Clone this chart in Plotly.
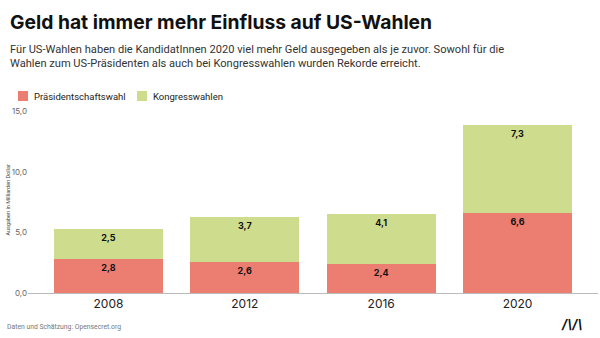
import plotly.graph_objects as go

years = ["2008", "2012", "2016", "2020"]
praesident = [2.8, 2.6, 2.4, 6.6]
kongress = [2.5, 3.7, 4.1, 7.3]
y_ticks = [0, 5, 10, 15]
y_tick_labels = ["0,0", "5,0", "10,0", "15,0"]

RED = "#EC7D71"
GREEN = "#CEDC8D"

fig = go.Figure()
for name, vals, col in [("Präsidentschaftswahl", praesident, RED),
                        ("Kongresswahlen", kongress, GREEN)]:
    fig.add_trace(go.Bar(
        x=years, y=vals, name=name, marker=dict(color=col, line=dict(width=0)),
        text=[f"{v:.1f}".replace(".", ",") for v in vals],
        textposition="inside", insidetextanchor="end", textangle=0,
        textfont=dict(family="Inter", size=9, color="#111111", weight="bold"),
        cliponaxis=False, showlegend=False,
    ))

fig.update_layout(
    width=600, height=338,
    margin=dict(l=28, r=2, t=108, b=45),
    paper_bgcolor="white", plot_bgcolor="white",
    barmode="stack", bargap=0.2,
    xaxis=dict(range=[-0.59, 3.59], showline=True, linecolor="#BBBBBB", linewidth=1,
               showgrid=False, ticks="", tickfont=dict(family="Inter", size=12, color="#222222")),
    yaxis=dict(range=[0, 15.29], showgrid=False, zeroline=False, showline=False,
               tickvals=y_ticks, ticktext=y_tick_labels, ticks="",
               tickfont=dict(family="Inter", size=8, color="#666666")),
)

# Title, subtitle, legend, axis title, source and logo
fig.add_annotation(text="<b>Geld hat immer mehr Einfluss auf US-Wahlen</b>",
                   xref="paper", yref="paper", x=-0.035, y=1.0, yshift=86,
                   xanchor="left", yanchor="middle", showarrow=False,
                   font=dict(family="Inter", size=19.3, color="#111111"))
fig.add_annotation(text="Für US-Wahlen haben die KandidatInnen 2020 viel mehr Geld ausgegeben als je zuvor. Sowohl für die<br>Wahlen zum US-Präsidenten als auch bei Kongresswahlen wurden Rekorde erreicht.",
                   xref="paper", yref="paper", x=-0.035, y=1.0, yshift=52,
                   xanchor="left", yanchor="middle", align="left", showarrow=False,
                   font=dict(family="Roboto", size=11.1, color="#333333"))

leg = [("Präsidentschaftswahl", RED, 18), ("Kongresswahlen", GREEN, 137)]
for label, col, px in leg:
    fig.add_shape(type="rect", xref="paper", yref="paper",
                  x0=(px - 28) / 570, x1=(px - 18) / 570,
                  y0=1.0 + (108 - 101) / 185, y1=1.0 + (108 - 91) / 185,
                  fillcolor=col, line=dict(width=0))
    fig.add_annotation(text=label, xref="paper", yref="paper",
                       x=(px - 14) / 570, y=1.0 + (108 - 96) / 185,
                       xanchor="left", yanchor="middle", showarrow=False,
                       font=dict(family="Roboto", size=9.5, color="#222222"))

fig.add_annotation(text="Ausgaben in Milliarden Dollar", xref="paper", yref="paper",
                   x=-21 / 570, y=0.5, textangle=-90, xanchor="center", yanchor="middle",
                   showarrow=False, font=dict(family="Roboto", size=5.5, color="#444444"))
fig.add_annotation(text="Daten und Schätzung: Opensecret.org", xref="paper", yref="paper",
                   x=-23 / 570, y=-(327 - 293) / 185, xanchor="left", yanchor="middle",
                   showarrow=False, font=dict(family="Roboto", size=6.8, color="#777777"))
fig.add_annotation(text="<b><i>/\\/\\</i></b>", xref="paper", yref="paper",
                   x=(572 - 28) / 570, y=-(324 - 293) / 185, xanchor="center", yanchor="middle",
                   showarrow=False, font=dict(family="Inter", size=13, color="#111111"))

fig.write_html("out.html")
